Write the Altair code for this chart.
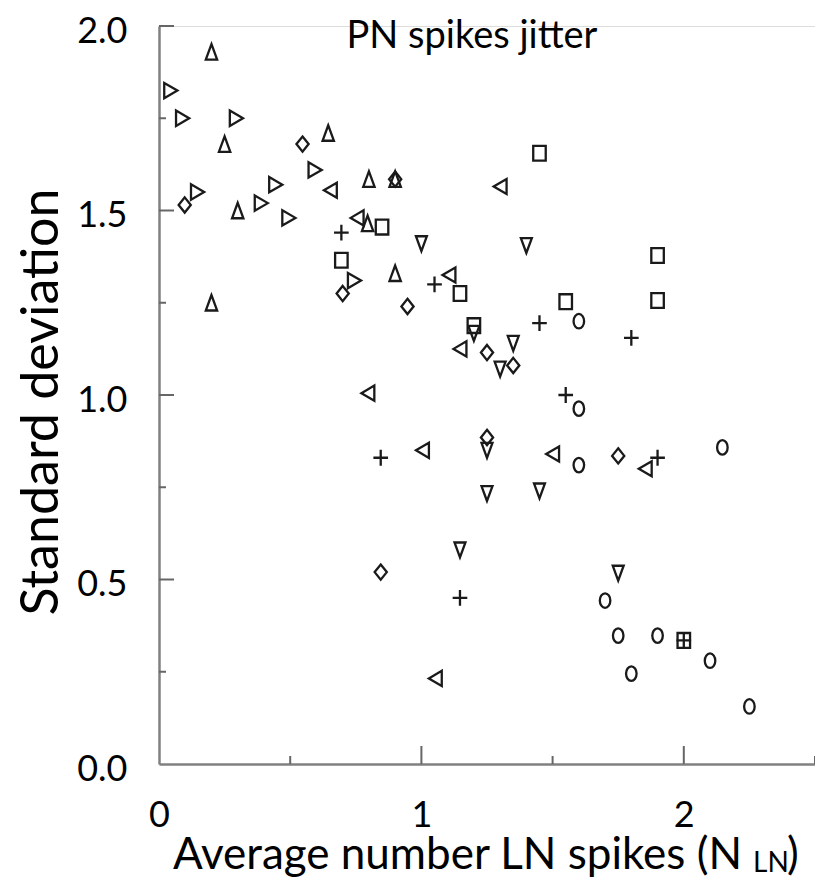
import altair as alt
import pandas as pd

# ---- data (x = average LN spikes, y = SD) ----
tri_up_x = [0.20, 0.25, 0.645, 0.80, 0.90, 0.30, 0.20, 0.795, 0.90]
tri_up_y = [1.93, 1.68, 1.71, 1.585, 1.585, 1.50, 1.25, 1.465, 1.33]

tri_right_x = [0.045, 0.09, 0.295, 0.147, 0.445, 0.39, 0.595, 0.495, 0.745]
tri_right_y = [1.825, 1.75, 1.75, 1.55, 1.57, 1.52, 1.61, 1.48, 1.31]

diamond_x = [0.547, 0.098, 0.70, 0.947, 1.25, 1.35, 1.25, 1.75, 0.845, 0.90]
diamond_y = [1.68, 1.515, 1.275, 1.24, 1.115, 1.08, 0.885, 0.835, 0.52, 1.585]

tri_left_x = [0.653, 0.755, 1.30, 1.105, 1.147, 0.796, 1.004, 1.50, 1.853, 1.053]
tri_left_y = [1.555, 1.48, 1.565, 1.325, 1.125, 1.005, 0.85, 0.84, 0.80, 0.232]

tri_down_x = [1.0, 1.40, 1.20, 1.35, 1.30, 1.25, 1.25, 1.45, 1.147, 1.75]
tri_down_y = [1.41, 1.405, 1.167, 1.14, 1.07, 0.85, 0.733, 0.74, 0.58, 0.517]

square_x = [1.45, 1.90, 1.90, 1.55, 1.147, 1.20, 0.85, 0.695, 2.0]
square_y = [1.655, 1.378, 1.256, 1.253, 1.275, 1.188, 1.455, 1.365, 0.335]

plus_x = [0.695, 1.05, 1.45, 1.80, 1.55, 0.845, 1.90, 1.147, 2.0]
plus_y = [1.44, 1.30, 1.195, 1.155, 1.0, 0.83, 0.83, 0.45, 0.335]

circle_x = [1.60, 1.60, 1.60, 2.147, 1.70, 1.75, 1.90, 2.10, 1.80, 2.25]
circle_y = [1.20, 0.963, 0.81, 0.858, 0.443, 0.348, 0.348, 0.28, 0.245, 0.156]

y_major_ticks = [0.5, 1.0, 1.5, 2.0]
y_minor_ticks = [0.25, 0.75, 1.25, 1.75]
x_major_ticks = [1.0, 2.0]
x_minor_ticks = [0.5, 1.5, 2.5]
x_labels = [0, 1, 2]
y_labels = [0.0, 0.5, 1.0, 1.5, 2.0]

title_text = "PN spikes jitter"
y_title = "Standard deviation"
x_title_main = "Average number LN spikes (N"
x_title_sub = "LN"
x_title_end = ")"

# ---- build table ----
series = [
    ("tri_up", tri_up_x, tri_up_y),
    ("tri_right", tri_right_x, tri_right_y),
    ("diamond", diamond_x, diamond_y),
    ("tri_left", tri_left_x, tri_left_y),
    ("tri_down", tri_down_x, tri_down_y),
    ("square", square_x, square_y),
    ("plus", plus_x, plus_y),
    ("circle", circle_x, circle_y),
]
rows = []
for name, xs, ys in series:
    for xv, yv in zip(xs, ys):
        rows.append({"x": xv, "y": yv, "g": name})
df = pd.DataFrame(rows)

shape_domain = [s[0] for s in series]
shape_range = [
    "M0,-1L-0.733,1L0.733,1Z",
    "M0.857,0L-0.857,-1L-0.857,1Z",
    "M0,-1L0.8,0L0,1L-0.8,0Z",
    "M-0.857,0L0.857,-1L0.857,1Z",
    "M0,1L-0.733,-1L0.733,-1Z",
    "M-0.846,-1L0.846,-1L0.846,1L-0.846,1Z",
    "M-1,0L1,0M0,-1.08L0,1.08",
    "M0,-1A0.727,1,0,1,1,0,1A0.727,1,0,1,1,0,-1Z",
]
size_range = [240, 210, 240, 210, 240, 180, 150, 125]

W, H = 656, 738
FONT = "Lato"
AXIS_GREY = "#808080"
TICK_GREY = "#666666"

xscale = alt.Scale(domain=[0, 2.5], nice=False, zero=False)
yscale = alt.Scale(domain=[0, 2.0], nice=False, zero=False)

points = alt.Chart(df).mark_point(
    filled=False, strokeWidth=2.3, color="#1a1a1a", opacity=1
).encode(
    x=alt.X("x:Q", scale=xscale, axis=alt.Axis(
        values=x_labels, format="d", ticks=False, grid=False,
        domainColor=AXIS_GREY, domainWidth=2.5, labelFlush=False,
        labelFont=FONT, labelFontSize=36, labelPadding=34,
        labelColor="black", title=None)),
    y=alt.Y("y:Q", scale=yscale, axis=alt.Axis(
        values=y_labels, format=".1f", ticks=False, grid=False,
        domainColor=AXIS_GREY, domainWidth=2.5, labelFlush=False,
        labelFont=FONT, labelFontSize=36, labelPadding=32,
        labelOffset=5, labelColor="black", title=None)),
    shape=alt.Shape("g:N", scale=alt.Scale(domain=shape_domain, range=shape_range), legend=None),
    size=alt.Size("g:N", scale=alt.Scale(domain=shape_domain, range=size_range), legend=None),
)

ymaj = alt.Chart(pd.DataFrame({"v": y_major_ticks})).mark_rule(
    color=TICK_GREY, strokeWidth=2).encode(
    y=alt.Y("v:Q", scale=yscale), x=alt.value(0), x2=alt.value(15))
ymin = alt.Chart(pd.DataFrame({"v": y_minor_ticks})).mark_rule(
    color=TICK_GREY, strokeWidth=2).encode(
    y=alt.Y("v:Q", scale=yscale), x=alt.value(0), x2=alt.value(7))
xmaj = alt.Chart(pd.DataFrame({"v": x_major_ticks})).mark_rule(
    color=TICK_GREY, strokeWidth=2).encode(
    x=alt.X("v:Q", scale=xscale), y=alt.value(H), y2=alt.value(H - 18))
xmin = alt.Chart(pd.DataFrame({"v": x_minor_ticks})).mark_rule(
    color=TICK_GREY, strokeWidth=2).encode(
    x=alt.X("v:Q", scale=xscale), y=alt.value(H), y2=alt.value(H - 8))

title = alt.Chart(pd.DataFrame({"t": [title_text]})).mark_text(
    font=FONT, fontSize=38, align="center", baseline="alphabetic", color="black"
).encode(text="t:N", x=alt.value(313), y=alt.value(22))

ytitle = alt.Chart(pd.DataFrame({"t": [y_title]})).mark_text(
    font=FONT, fontSize=52, align="center", baseline="middle", angle=270, color="black"
).encode(text="t:N", x=alt.value(-117), y=alt.value(376))

xt_main = alt.Chart(pd.DataFrame({"t": [x_title_main]})).mark_text(
    font=FONT, fontSize=44, align="right", baseline="alphabetic", color="black"
).encode(text="t:N", x=alt.value(583), y=alt.value(843))
xt_sub = alt.Chart(pd.DataFrame({"t": [x_title_sub]})).mark_text(
    font=FONT, fontSize=28, align="left", baseline="alphabetic", color="black"
).encode(text="t:N", x=alt.value(594), y=alt.value(846))
xt_end = alt.Chart(pd.DataFrame({"t": [x_title_end]})).mark_text(
    font=FONT, fontSize=44, align="left", baseline="alphabetic", color="black"
).encode(text="t:N", x=alt.value(628), y=alt.value(843))

chart = alt.layer(
    ymaj, ymin, xmaj, xmin, points, title, ytitle, xt_main, xt_sub, xt_end
).properties(
    width=W, height=H,
    autosize=alt.AutoSizeParams(type="none"),
    padding={"left": 151, "top": 18, "right": 0, "bottom": 116},
).configure_view(stroke=None).configure(background="white")

chart.save("out.html", embed_options={"renderer": "svg", "actions": False})
